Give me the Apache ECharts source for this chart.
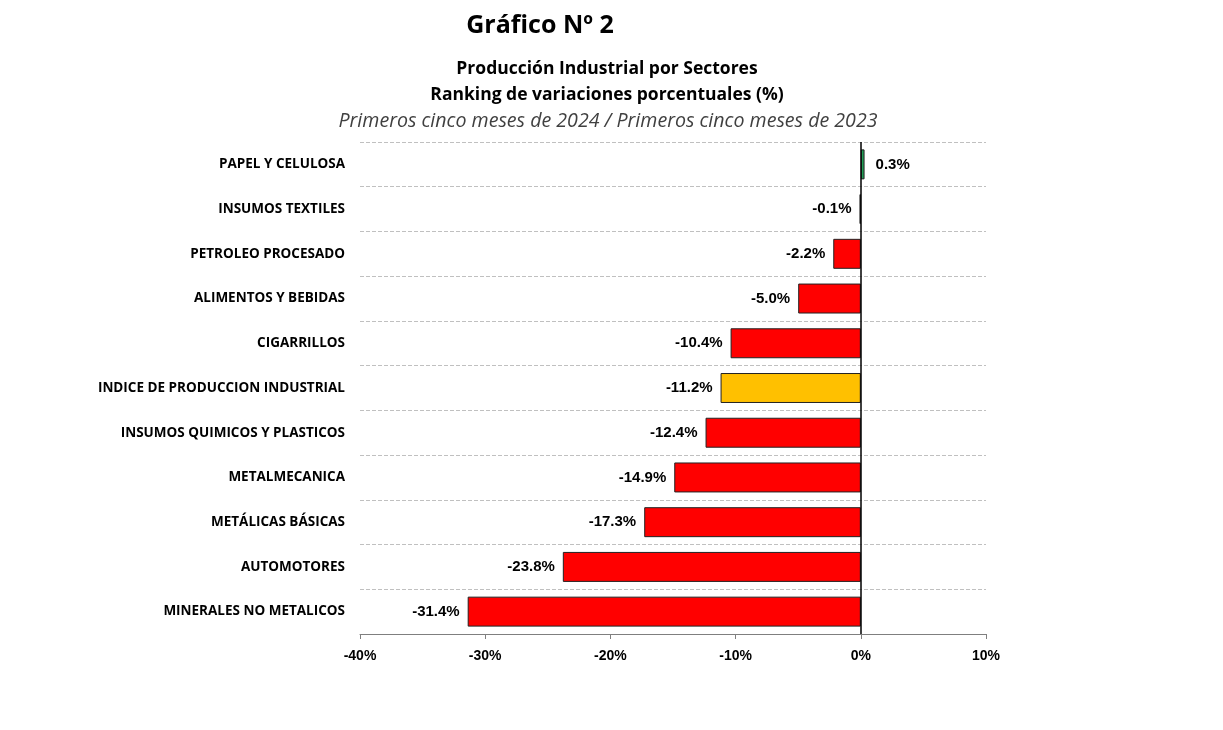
<!DOCTYPE html>
<html><head><meta charset="utf-8">
<script src="https://cdn.jsdelivr.net/npm/echarts@6/dist/echarts.min.js"></script>
<style>html,body{margin:0;padding:0;background:#fff}#c{width:1223px;height:730px}</style>
</head><body><div id="c"></div>
<script>
const categories = ["PAPEL Y CELULOSA","INSUMOS TEXTILES","PETROLEO PROCESADO","ALIMENTOS Y BEBIDAS","CIGARRILLOS","INDICE DE PRODUCCION INDUSTRIAL","INSUMOS QUIMICOS Y PLASTICOS","METALMECANICA","METÁLICAS BÁSICAS","AUTOMOTORES","MINERALES NO METALICOS"];
const values = [0.3,-0.1,-2.2,-5.0,-10.4,-11.2,-12.4,-14.9,-17.3,-23.8,-31.4];
const barColors = ["#1f9d55","#000000","#ff0000","#ff0000","#ff0000","#ffc000","#ff0000","#ff0000","#ff0000","#ff0000","#ff0000"];
const xTicks = [-40,-30,-20,-10,0,10];

const chart = echarts.init(document.getElementById('c'));
const sans = '"Open Sans", "Noto Sans", sans-serif';
const arial = '"Liberation Sans", Arial, sans-serif';
chart.setOption({
  animation:false,
  title:[
    {text:'Gráfico Nº 2',left:535,top:8,textAlign:'center',textStyle:{fontFamily:sans,fontSize:25,fontWeight:'bold',color:'#000'}},
    {text:'Producción Industrial por Sectores',left:602,top:55,textAlign:'center',textStyle:{fontFamily:sans,fontSize:17.5,fontWeight:'bold',color:'#000'}},
    {text:'Ranking de variaciones porcentuales (%)',left:602,top:81,textAlign:'center',textStyle:{fontFamily:sans,fontSize:17.5,fontWeight:'bold',color:'#000'}},
    {text:'Primeros cinco meses de 2024 / Primeros cinco meses de 2023',left:603,top:106,textAlign:'center',textStyle:{fontFamily:sans,fontSize:19.6,fontStyle:'italic',fontWeight:'normal',color:'#404040'}}
  ],
  grid:{left:360,right:237,top:142,bottom:96,containLabel:false},
  xAxis:{type:'value',min:xTicks[0],max:xTicks[xTicks.length-1],interval:10,
    axisLine:{show:true,onZero:false,lineStyle:{color:'#7f7f7f',width:1}},
    axisTick:{show:true,length:5,inside:false,lineStyle:{color:'#7f7f7f'}},
    splitLine:{show:false},
    axisLabel:{formatter:v=>v+'%',fontFamily:arial,fontWeight:'bold',fontSize:14,color:'#000',margin:15}
  },
  yAxis:{type:'category',data:categories,inverse:true,
    axisLine:{show:false},axisTick:{show:false},
    splitLine:{show:true,interval:0,lineStyle:{color:'#c0c0c0',type:'dashed',width:1}},
    axisLabel:{fontFamily:sans,fontWeight:'bold',fontSize:13.5,color:'#000',margin:15,interval:0}
  },
  series:[{
    type:'bar',
    barCategoryGap:'33%',
    data:values.map((v,i)=>({value:v,itemStyle:{color:barColors[i],borderColor:'#222',borderWidth:1},
      label:{show:true,position:v>=0?'right':'left',distance:v>=0?11:8}})),
    label:{show:true,formatter:p=>p.value.toFixed(1)+'%',fontFamily:arial,fontWeight:'bold',fontSize:15,color:'#000',distance:8},
    markLine:{silent:true,symbol:'none',label:{show:false},lineStyle:{color:'#000',type:'solid',width:1.5},data:[{xAxis:0}]}
  }]
});
</script></body></html>
